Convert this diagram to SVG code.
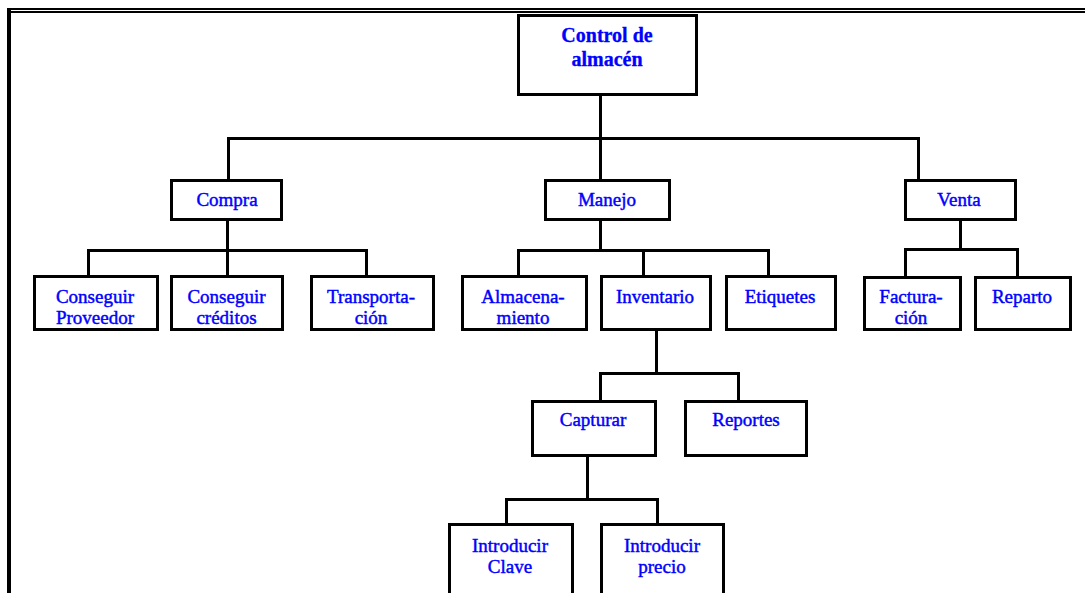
<svg xmlns="http://www.w3.org/2000/svg" width="1085" height="593" viewBox="0 0 1085 593">
  <style>
    .box { fill: #ffffff; stroke: #000000; stroke-width: 3; shape-rendering: crispEdges; }
    .wire { fill: none; stroke: #000000; stroke-width: 3; stroke-linecap: square; stroke-linejoin: miter; shape-rendering: crispEdges; }
    .lbl { font-family: "Liberation Serif", "Times New Roman", serif; font-size: 19px; fill: #0000ff; stroke: #0000ff; stroke-width: 0.45; text-anchor: middle; }
    .root { font-weight: bold; font-size: 20px; stroke-width: 0.3; }
  </style>
  <rect width="1085" height="593" fill="#ffffff"/>

  <!-- page frame: double rule on top, heavy rule on the left -->
  <g id="frame" shape-rendering="crispEdges">
    <rect x="7" y="7.5" width="1078" height="2.5" fill="#000000"/>
    <rect x="7" y="11" width="1078" height="1.5" fill="#000000"/>
    <rect x="7" y="7.5" width="4" height="585.5" fill="#000000"/>
  </g>

  <!-- tree connectors -->
  <g id="connectors" class="wire">
    <path d="M600 95 V138 M228 138 H918 M228 138 V180 M600 138 V180 M918 138 V180"/>
    <path d="M227 220 V250 M88 250 H366 M88 250 V276 M227 250 V276 M366 250 V276"/>
    <path d="M600 220 V250 M518 250 H768 M518 250 V276 M643 250 V276 M768 250 V276"/>
    <path d="M960 220 V249 M905 249 H1017 M905 249 V276 M1017 249 V276"/>
    <path d="M656 330 V373 M600 373 H738 M600 373 V400 M738 373 V400"/>
    <path d="M587 456 V499 M506 499 H657 M506 499 V524 M657 499 V524"/>
  </g>

  <g id="control-almacen">
    <rect class="box" x="518.5" y="15.5" width="178" height="79"/>
    <text class="lbl root" x="607" y="42">Control de</text>
    <text class="lbl root" x="607" y="66">almacén</text>
  </g>

  <g id="compra">
    <rect class="box" x="171.5" y="180.5" width="110" height="39"/>
    <text class="lbl" x="227" y="206">Compra</text>
  </g>
  <g id="manejo">
    <rect class="box" x="545.5" y="180.5" width="124" height="39"/>
    <text class="lbl" x="607" y="206">Manejo</text>
  </g>
  <g id="venta">
    <rect class="box" x="905" y="180.5" width="110" height="39"/>
    <text class="lbl" x="959" y="206">Venta</text>
  </g>

  <g id="conseguir-proveedor">
    <rect class="box" x="34" y="276.5" width="123" height="53"/>
    <text class="lbl" x="95" y="302.5">Conseguir</text>
    <text class="lbl" x="95" y="323.5">Proveedor</text>
  </g>
  <g id="conseguir-creditos">
    <rect class="box" x="171.5" y="276.5" width="110.5" height="53"/>
    <text class="lbl" x="226.5" y="302.5">Conseguir</text>
    <text class="lbl" x="226.5" y="323.5">créditos</text>
  </g>
  <g id="transportacion">
    <rect class="box" x="311.5" y="276.5" width="122" height="53"/>
    <text class="lbl" x="371" y="302.5">Transporta-</text>
    <text class="lbl" x="371" y="323.5">ción</text>
  </g>

  <g id="almacenamiento">
    <rect class="box" x="462.5" y="276.5" width="123.5" height="53"/>
    <text class="lbl" x="523" y="302.5">Almacena-</text>
    <text class="lbl" x="523" y="323.5">miento</text>
  </g>
  <g id="inventario">
    <rect class="box" x="601" y="276.5" width="109.5" height="53"/>
    <text class="lbl" x="655" y="302.5">Inventario</text>
  </g>
  <g id="etiquetes">
    <rect class="box" x="726" y="276.5" width="109" height="53"/>
    <text class="lbl" x="780" y="302.5">Etiquetes</text>
  </g>

  <g id="facturacion">
    <rect class="box" x="864.5" y="277.5" width="96" height="52"/>
    <text class="lbl" x="911" y="302.5">Factura-</text>
    <text class="lbl" x="911" y="323.5">ción</text>
  </g>
  <g id="reparto">
    <rect class="box" x="975.5" y="277.5" width="94.5" height="52"/>
    <text class="lbl" x="1022" y="302.5">Reparto</text>
  </g>

  <g id="capturar">
    <rect class="box" x="532" y="401.5" width="123" height="54"/>
    <text class="lbl" x="593" y="426">Capturar</text>
  </g>
  <g id="reportes">
    <rect class="box" x="685" y="401.5" width="121.5" height="54"/>
    <text class="lbl" x="746" y="426">Reportes</text>
  </g>

  <g id="introducir-clave">
    <rect class="box" x="449.5" y="524.5" width="123" height="70"/>
    <text class="lbl" x="510" y="551.5">Introducir</text>
    <text class="lbl" x="510" y="572.5">Clave</text>
  </g>
  <g id="introducir-precio">
    <rect class="box" x="601" y="524.5" width="122.5" height="70"/>
    <text class="lbl" x="662" y="551.5">Introducir</text>
    <text class="lbl" x="662" y="572.5">precio</text>
  </g>
</svg>
